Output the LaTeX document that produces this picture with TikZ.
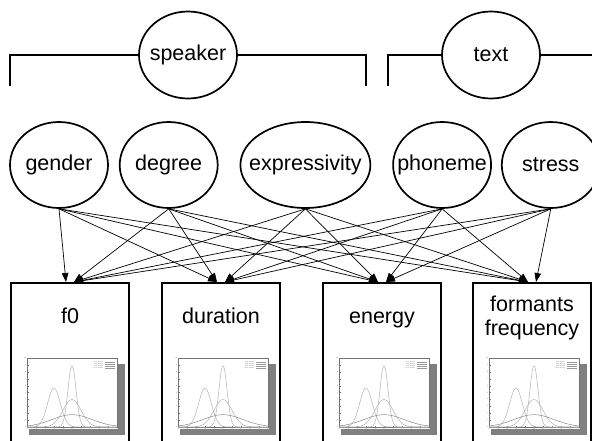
\documentclass[tikz,border=0pt]{standalone}
\usepackage{fontspec}
\setmainfont{Liberation Sans}
\usepackage{tikz}
\usetikzlibrary{shapes.geometric,arrows.meta,calc}
\usetikzlibrary{positioning}

\begin{document}
\begin{tikzpicture}[
    x=1pt, y=-1pt,
    node distance = 0mm,
every node/.style = {inner sep=0pt, font=\fontsize{21.5}{24}\selectfont},
oval/.style = {ellipse, draw, line width=1.7pt, inner xsep=-14pt,
               minimum width=98pt, minimum height=86pt},
feature/.style = {rectangle, draw, line width=1.7pt, anchor=north,
               minimum width=118pt, minimum height=200pt},
bracket/.style = {line width=1.1pt},
link/.style = {line width=0.7pt, -{Triangle[length=9pt,width=6.5pt]}},
curve/.style = {line width=0.5pt, smooth, samples=70},
tiny/.style = {font=\fontsize{1.6}{2}\selectfont, text=black!70}]
\useasboundingbox (0,0) rectangle (592,440);
\clip (0,0) rectangle (592,440);

% upper level
\node[oval, minimum height=87pt] (speaker) at (188,55) {speaker};
\node[oval, minimum height=87pt] (txt)     at (491,55) {text};

\coordinate (spk-l) at (10,86);
\coordinate (spk-r) at (366,86);
\coordinate (txt-l) at (388,86);
\coordinate (txt-r) at (592,55);
\draw[bracket] (spk-l) |- (speaker.west);
\draw[bracket] (speaker.east) -| (spk-r);
\draw[bracket] (txt-l) |- (txt.west);
\draw[bracket] (txt.east) -- (txt-r);

% factors
\node[oval] (gender) at (59,165) {gender};
\node[oval, right=10pt of gender]  (degree)  {degree};
\node[oval, minimum width=130pt,
      right=21pt of degree]        (expr)    {expressivity};
\node[oval, right=21pt of expr]    (phoneme) {phoneme};
\node[oval, right=9pt of phoneme]  (stress)  {stress};

% parameters
\node[feature] (f0)     at (70,282)  {};
\node[feature] (dur)    at (221,282) {};
\node[feature] (energy) at (382,282) {};
\node[feature] (form)   at (532,282) {};

\node[anchor=base] (f0-lbl)     at (70,323)  {f0};
\node[anchor=base] (dur-lbl)    at (221,323) {duration};
\node[anchor=base] (energy-lbl) at (382,323) {energy};
\node[anchor=base, align=center] (form-lbl) at (532,335) {formants\\frequency};

\foreach \t in {f0,dur,energy,form}
  \foreach \s in {gender,degree,expr,phoneme,stress}
    \draw[link] let \p1=(\s.south), \p2=(\t.north),
                    \n1={sign(\x1-\x2)} in (\p1) -- (\x2+\n1*4pt,\y2);

% distribution plots
\foreach \bx in {11,162,323,473} {
\begin{scope}[shift={(\bx,282)}]
  \fill[black!50] (18,82) rectangle (114,153);
  \fill[white] (11,75) rectangle (107,147);
  \draw[line width=0.3pt, black!55] (16,76) rectangle (106,145);
  \foreach \k in {0,...,10} {
    \draw[line width=0.2pt, black!55] ({16+9*\k},145) -- ({16+9*\k},143.5);
    \draw[line width=0.2pt, black!55] (16,{145-6.9*\k}) -- (17.5,{145-6.9*\k});
  }
  \foreach \k [evaluate=\k as \v using int(\k-5)] in {0,...,10}
    \node[tiny] (xt-\k) at ({16+9*\k},146.5) {\v};
  \foreach \k in {0,...,10}
    \node[tiny, anchor=east] (yt-\k) at (15.5,{145-6.9*\k}) {\k};
  \draw[curve, black!30] plot[domain=-5:5] ({61+9*\x},{145-69*0.8921*exp(-\x*\x/0.4)});
  \draw[curve, black!30] plot[domain=-5:5] ({61+9*\x},{145-69*0.3989*exp(-\x*\x/2)});
  \draw[curve, black!45] plot[domain=-5:5] ({61+9*\x},{145-69*0.1784*exp(-\x*\x/10)});
  \draw[curve, black!30] plot[domain=-5:5] ({61+9*\x},{145-69*0.5642*exp(-(\x+2)*(\x+2))});
  \foreach \k/\m in {1/{μ=0, σ²=0.2},2/{μ=0, σ²=1.0},3/{μ=0, σ²=5.0},4/{μ=−2, σ²=0.5}} {
    \node[tiny, anchor=east] (lg-\k) at (92,{78+2*\k}) {\m};
    \draw[line width=0.2pt, black!40] (94,{78+2*\k}) -- (104,{78+2*\k});
  }
\end{scope}
}
\end{tikzpicture}
\end{document}
